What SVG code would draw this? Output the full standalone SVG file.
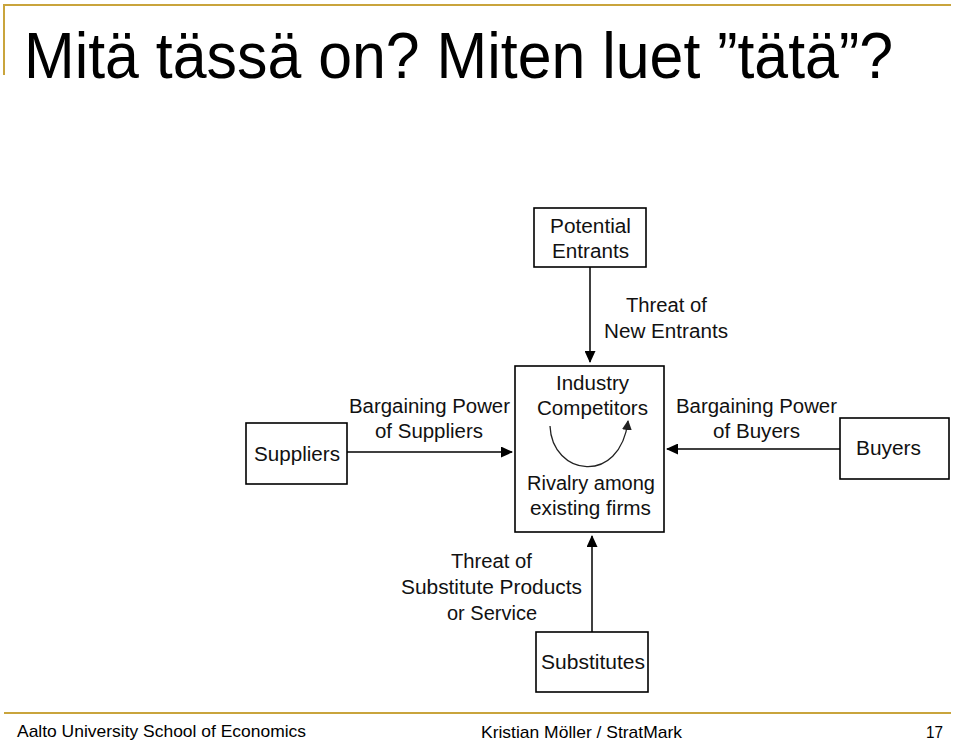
<svg xmlns="http://www.w3.org/2000/svg" width="960" height="741" viewBox="0 0 960 741">
<style>
.box{fill:#fff;stroke:#000;stroke-width:1.6}
.lbl{font-family:"Liberation Sans",Arial,sans-serif;font-size:20px;fill:#111}
.conn{stroke:#000;stroke-width:1.5;fill:none}
.gold{stroke:#C9A43C;stroke-width:2;fill:none}
.foot{font-family:"Liberation Sans",Arial,sans-serif;font-size:17px;fill:#000}
</style>
<defs>
<marker id="ah" markerUnits="userSpaceOnUse" markerWidth="12" markerHeight="11" refX="11" refY="5.5" orient="auto">
<path d="M0,0 L12,5.5 L0,11 z" fill="#000"/>
</marker>
<marker id="ah2" markerUnits="userSpaceOnUse" markerWidth="10" markerHeight="10" refX="9" refY="5" orient="auto">
<path d="M0,0 L10,5 L0,10 z" fill="#222"/>
</marker>
</defs>
<rect width="960" height="741" fill="#fff"/>
<path class="gold" d="M4,75 L4,5 L951,5"/>
<path class="gold" d="M4,713 L951,713"/>
<text x="24" y="78" font-family="'Liberation Sans',Arial,sans-serif" font-size="64" textLength="869" lengthAdjust="spacingAndGlyphs" fill="#000">Mitä tässä on? Miten luet ”tätä”?</text>

<g id="connectors">
<line class="conn" x1="590" y1="267" x2="590" y2="362" marker-end="url(#ah)"/>
<line class="conn" x1="347" y1="452" x2="512" y2="452" marker-end="url(#ah)"/>
<line class="conn" x1="840" y1="449" x2="667" y2="449" marker-end="url(#ah)"/>
<line class="conn" x1="592" y1="632" x2="592" y2="536" marker-end="url(#ah)"/>
<text class="lbl" x="626" y="312" textLength="81" lengthAdjust="spacingAndGlyphs">Threat of</text>
<text class="lbl" x="604" y="338" textLength="124" lengthAdjust="spacingAndGlyphs">New Entrants</text>
<text class="lbl" x="349" y="413" textLength="161" lengthAdjust="spacingAndGlyphs">Bargaining Power</text>
<text class="lbl" x="375" y="438" textLength="108" lengthAdjust="spacingAndGlyphs">of Suppliers</text>
<text class="lbl" x="676" y="413" textLength="161" lengthAdjust="spacingAndGlyphs">Bargaining Power</text>
<text class="lbl" x="713" y="438" textLength="87" lengthAdjust="spacingAndGlyphs">of Buyers</text>
<text class="lbl" x="451" y="568" textLength="81" lengthAdjust="spacingAndGlyphs">Threat of</text>
<text class="lbl" x="401" y="594" textLength="181" lengthAdjust="spacingAndGlyphs">Substitute Products</text>
<text class="lbl" x="447" y="620" textLength="90" lengthAdjust="spacingAndGlyphs">or Service</text>
</g>

<g id="potential-entrants">
<rect class="box" x="534" y="208" width="112" height="59"/>
<text class="lbl" x="550" y="233" textLength="81" lengthAdjust="spacingAndGlyphs">Potential</text>
<text class="lbl" x="552" y="258" textLength="77" lengthAdjust="spacingAndGlyphs">Entrants</text>
</g>

<g id="industry-competitors">
<rect class="box" x="515" y="366" width="149" height="166"/>
<text class="lbl" x="556" y="390" textLength="73" lengthAdjust="spacingAndGlyphs">Industry</text>
<text class="lbl" x="537" y="415" textLength="111" lengthAdjust="spacingAndGlyphs">Competitors</text>
<path d="M550,426 C552,476 620,486 628,421" stroke="#222" stroke-width="1.3" fill="none" marker-end="url(#ah2)"/>
<text class="lbl" x="527" y="490" textLength="128" lengthAdjust="spacingAndGlyphs">Rivalry among</text>
<text class="lbl" x="530" y="515" textLength="121" lengthAdjust="spacingAndGlyphs">existing firms</text>
</g>

<g id="suppliers">
<rect class="box" x="246" y="423" width="101" height="61"/>
<text class="lbl" x="254" y="461" textLength="86" lengthAdjust="spacingAndGlyphs">Suppliers</text>
</g>

<g id="buyers">
<rect class="box" x="840" y="418" width="109" height="61"/>
<text class="lbl" x="856" y="455" textLength="65" lengthAdjust="spacingAndGlyphs">Buyers</text>
</g>

<g id="substitutes">
<rect class="box" x="536" y="632" width="112" height="60"/>
<text class="lbl" x="541" y="669" textLength="104" lengthAdjust="spacingAndGlyphs">Substitutes</text>
</g>

<text class="foot" x="17" y="737" textLength="289" lengthAdjust="spacingAndGlyphs">Aalto University School of Economics</text>
<text class="foot" x="481" y="738" textLength="201" lengthAdjust="spacingAndGlyphs">Kristian Möller / StratMark</text>
<text class="foot" x="926" y="738" textLength="17" lengthAdjust="spacingAndGlyphs">17</text>
</svg>
